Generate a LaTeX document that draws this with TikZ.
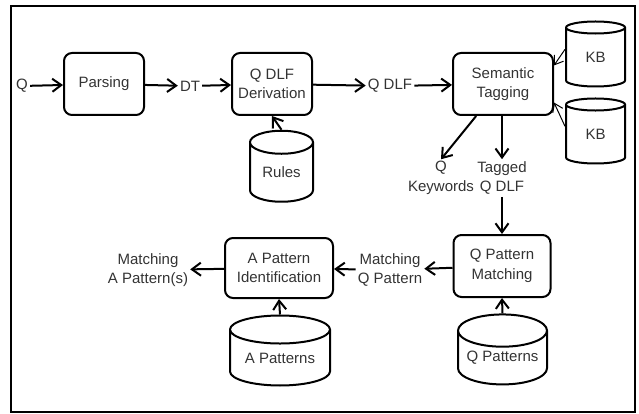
\documentclass[tikz,border=0pt]{standalone}
\usepackage{fontspec}
\setmainfont{Liberation Sans}
\usetikzlibrary{shapes.geometric,arrows.meta,positioning}
\definecolor{flowtext}{HTML}{333333}
\tikzstyle{block} = [rectangle, draw, line width=2pt, rounded corners=8pt,
    minimum height=62pt, align=center, text=flowtext]
\tikzstyle{store} = [cylinder, shape border rotate=90, draw, line width=2pt,
    text=flowtext, inner sep=0pt]
\tikzstyle{flowtag} = [align=center, text=flowtext, inner sep=2pt]
\tikzstyle{arrow} = [-{Straight Barb[length=9pt,width=13pt]}, line width=2pt]
\tikzstyle{thinarrow} = [-{Straight Barb[length=8pt,width=11pt]}, line width=1pt]

\begin{document}
\begin{tikzpicture}[x=1pt, y=-1pt, font=\fontsize{15}{19.5}\selectfont]
\useasboundingbox (0,0) rectangle (639,414);
\draw[line width=2pt] (11,6) rectangle (635,412);
% top row
\node[flowtag] (q) at (22,86) {Q};
\node[block, minimum width=80pt] (parse) at (104,84) {Parsing};
\node[flowtag] (dt) at (190,86) {DT};
\node[block, minimum width=80pt] (deriv) at (272,84) {Q DLF\\Derivation};
\node[flowtag] (qdlf) at (390,86) {Q DLF};
\node[block, minimum width=100pt] (tag) at (503,84) {Semantic\\Tagging};
\node[store, minimum width=63pt, minimum height=71pt, aspect=0.6] (rules) at (281.5,172.5) {Rules};
\node[store, minimum width=59pt, minimum height=65pt, aspect=0.6] (kbone) at (595.5,57.5) {KB};
\node[store, minimum width=59pt, minimum height=65pt, aspect=0.6] (kbtwo) at (595.5,134.5) {KB};
\node[flowtag] (kw) at (441,178) {Q\\Keywords};
\node[flowtag] (tagged) at (502,178) {Tagged\\Q DLF};
% bottom row
\node[block, minimum width=97pt] (qpm) at (502,266) {Q Pattern\\Matching};
\node[store, minimum width=89pt, minimum height=70pt, aspect=0.45] (qpat) at (502.5,358) {Q Patterns};
\node[flowtag] (mqp) at (390,270) {Matching\\Q Pattern};
\node[block, minimum width=108pt, minimum height=60pt] (api) at (279,268) {A Pattern\\Identification};
\node[store, minimum width=100pt, minimum height=70pt, aspect=0.4] (apat) at (280,358) {A Patterns};
\node[flowtag] (map) at (148,270) {Matching\\A Pattern(s)};

\draw[arrow] (q) -- (parse);
\draw[arrow] (parse) -- (dt);
\draw[arrow] (dt) -- (deriv);
\draw[arrow] (deriv) -- (qdlf);
\draw[arrow] (qdlf) -- (tag);
\draw[arrow] (rules.north) -- (deriv.south);
\draw[thinarrow] (kbone.165) -- (tag.20);
\draw[thinarrow] (kbtwo.165) -- (tag.-20);
\draw[arrow] (tag.-130) -- (kw.north);
\draw[arrow] (tag.south -| tagged) -- (tagged.north);
\draw[arrow] (tagged.south) -- (qpm.north);
\draw[arrow] (qpat.north) -- (qpm.south);
\draw[arrow] (qpm) -- (mqp);
\draw[arrow] (mqp) -- (api);
\draw[arrow] (apat.north) -- (api.south);
\draw[arrow] (api) -- (map);
\end{tikzpicture}
\end{document}
